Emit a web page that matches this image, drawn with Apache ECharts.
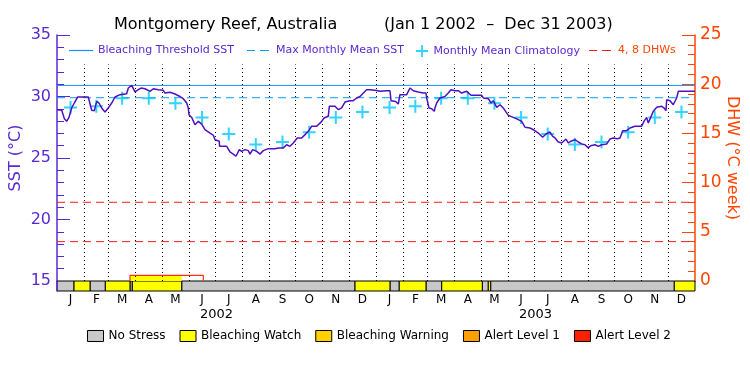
<!DOCTYPE html>
<html>
<head>
<meta charset="utf-8">
<script src="https://cdn.jsdelivr.net/npm/echarts@6/dist/echarts.min.js"></script>
<style>
  html, body { margin: 0; padding: 0; background: #fff; }
  #chart { width: 750px; height: 375px; }
</style>
</head>
<body>
<div id="chart"></div>
<script>
// days counted from Jan 1 2002, 730 days in all
const sstDays = [0, 5.4, 8.4, 11.1, 13.7, 16.8, 19.8, 23.7, 35.8, 37.8, 39.7, 42.7, 45.4, 48.1, 51.1, 54.9, 58.7, 62.6, 66.4, 72.1,
  79.7, 81.6, 85.5, 89.2, 93, 96.1, 100.7, 106.4, 110.2, 115.9, 121.6, 123.6, 129.3, 135, 140.7, 144.5, 148.4, 150.2, 151, 154.1,
  157.9, 161.7, 165.6, 169.3, 175.1, 178.8, 180.8, 185.7, 186, 194.2, 197.9, 201.7, 204.8, 208.6, 211.3, 215.1, 218.9, 220.8, 223.9, 228.5,
  232.3, 236, 241.8, 249.4, 253.2, 258.9, 262.8, 266.6, 270.4, 274.9, 280, 283.8, 287.5, 291.4, 297.1, 302.9, 305.5, 310.4, 311.6, 318.1,
  321.9, 323.8, 325.7, 329.5, 335.2, 339, 342.9, 346.7, 350.5, 354.3, 358.1, 363.8, 369.6, 377.2, 381, 382.2, 387.5, 390.5, 392.4, 400.1,
  403.9, 407.7, 413.4, 419.1, 422.2, 423, 425.6, 428.7, 431.7, 432.5, 434.4, 438.2, 443.9, 447.7, 450.8, 455.4, 459.1, 463, 468.8, 473.7,
  485.9, 487.8, 493.5, 496.6, 499.2, 503.1, 506.9, 510.6, 516.4, 522.1, 527.8, 531.7, 535.5, 541.2, 545, 550.7, 555.7, 559.5, 564.1, 567.2,
  569.8, 573.6, 577.5, 579.3, 582.4, 585, 587.8, 592.7, 596.5, 600.3, 604.1, 607.9, 610.6, 615.6, 619.3, 623.2, 628.9, 632.7, 636.5, 641.1,
  644.2, 647.3, 651.8, 655.6, 661.3, 669, 671.6, 674.7, 676.5, 679.3, 682.3, 686.2, 691.9, 694.5, 696.8, 697.6, 701.4, 705.1, 707.1, 709,
  710.9, 730];
const sstVals = [28.93, 28.88, 28.2, 27.98, 28.3, 29.07, 29.47, 29.96, 29.96, 29.88, 28.88, 28.85, 29.6, 29.47, 29.07, 28.74, 29.07, 29.47, 29.96, 30.15,
  30.23, 30.69, 30.9, 30.37, 30.55, 30.69, 30.63, 30.42, 30.63, 30.55, 30.5, 30.28, 30.34, 30.2, 30.0, 29.82, 29.47, 29.07, 28.52, 28.3,
  27.7, 27.98, 27.76, 27.3, 27.03, 26.85, 26.49, 26.36, 25.95, 25.95, 25.49, 25.32, 25.14, 25.68, 25.54, 25.68, 25.6, 25.32, 25.68, 25.54,
  25.32, 25.6, 25.76, 25.76, 25.82, 25.82, 26.08, 25.95, 26.22, 26.63, 26.63, 26.9, 27.17, 27.58, 27.58, 27.98, 28.25, 28.39, 29.2, 29.2,
  28.93, 28.8, 29.07, 29.55, 29.66, 29.66, 29.88, 30.0, 30.28, 30.55, 30.55, 30.5, 30.42, 30.47, 30.47, 29.66, 29.6, 29.39, 30.15, 30.15,
  30.69, 30.47, 30.37, 30.28, 30.28, 29.88, 29.07, 29.01, 28.8, 29.07, 29.47, 29.88, 30.0, 30.28, 30.55, 30.47, 30.47, 30.28, 30.42, 30.1,
  30.1, 29.88, 29.82, 29.47, 29.66, 29.12, 29.33, 29.07, 28.47, 28.3, 28.12, 27.98, 27.5, 27.44, 27.3, 27.03, 26.68, 26.95, 27.11, 26.76,
  26.63, 26.3, 26.22, 26.08, 26.54, 26.22, 26.36, 26.49, 26.3, 26.14, 26.08, 25.82, 26.0, 26.08, 25.95, 26.08, 26.14, 26.54, 26.63, 26.57,
  26.63, 27.22, 27.22, 27.44, 27.58, 27.58, 27.98, 28.3, 27.85, 28.3, 28.8, 29.12, 29.2, 29.07, 28.85, 29.74, 29.66, 29.33, 29.2, 29.88,
  30.42, 30.42];

const climatology = [29.1, 29.2, 29.85, 29.85, 29.45, 28.3, 26.95, 26.1, 26.3, 27.1, 28.3, 28.75];
const mmm = 29.9;
const threshold = 30.9;
const dhwLevels = [4, 8];

const dhwDays = [83.5, 83.5, 167.4, 167.4];
const dhwVals = [0, 0.57, 0.57, 0];
const dhwFillDays = [83.5, 142.7];

const statusStart = [0, 19.5, 37.8, 55.3, 83.5, 86.2, 142.7, 341, 381, 391.6, 422.2, 440.2, 486.6, 493.5, 496.2, 706.3];
const statusLevel = [0, 1, 0, 1, 0, 1, 0, 1, 0, 1, 0, 1, 0, 1, 0, 1];
const statusNames = ['No Stress', 'Bleaching Watch', 'Bleaching Warning', 'Alert Level 1', 'Alert Level 2'];
const statusColors = ['#c8c8c8', '#ffff00', '#ffd200', '#ffa000', '#ff2000'];

const monthLetters = ['J', 'F', 'M', 'A', 'M', 'J', 'J', 'A', 'S', 'O', 'N', 'D'];
const years = ['2002', '2003'];

const DAY = 86400000;
const t0 = Date.UTC(2002, 0, 1);
const monthStart = [];
for (let i = 0; i <= 24; i++) monthStart.push((Date.UTC(2002, i, 1) - t0) / DAY);
const monthMid = monthStart.slice(0, 24).map((d, i) => (d + monthStart[i + 1]) / 2);
const yearMid = [monthStart[12] / 2, (monthStart[12] + monthStart[24]) / 2];
const endDay = monthStart[24];

const purple = '#5a28d2';
const orange = '#ff4500';
const plus = 'path://M5.5,0h2v5.5h5.5v2h-5.5v5.5h-2v-5.5h-5.5v-2h5.5z';
const solidIcon = 'path://M0,0h24v1.2h-24z';
const dashIcon = 'path://M0,0h8v1.2h-8z M13,0h9v1.2h-9z M22,0h2v0.01h-2z';

const sstData = sstDays.map((d, i) => [d, sstVals[i]]);
const climData = monthMid.map((d, i) => [d, climatology[i % 12]]);
const dhwLineData = [];
dhwLevels.forEach((v, i) => {
  if (i > 0) dhwLineData.push([endDay, '-']);
  dhwLineData.push([0, v], [endDay, v]);
});

const statusSeries = statusNames.map((name, lv) => ({
  name: name,
  type: 'custom',
  xAxisIndex: 1,
  yAxisIndex: 2,
  itemStyle: { color: statusColors[lv] },
  encode: { x: [0, 1] },
  data: statusStart.map((s, i) => [s, i + 1 < statusStart.length ? statusStart[i + 1] : endDay, statusLevel[i]])
    .filter(r => r[2] === lv),
  renderItem: function (params, api) {
    const a = api.coord([api.value(0), 1]);
    const b = api.coord([api.value(1), 0]);
    return {
      type: 'rect',
      shape: { x: a[0], y: a[1], width: b[0] - a[0], height: b[1] - a[1] },
      style: { fill: api.visual('color'), stroke: '#000', lineWidth: 1 }
    };
  }
}));

const font = 'DejaVu Sans';
function topLegend(name, left, icon, width, color) {
  return {
    left: left, top: 45, padding: 0, itemWidth: width, itemHeight: 12, itemGap: 0,
    textStyle: { fontFamily: font, fontSize: 11, color: color },
    data: [icon ? { name: name, icon: icon } : { name: name }]
  };
}

const chart = echarts.init(document.getElementById('chart'));
chart.setOption({
  animation: false,
  textStyle: { fontFamily: font },
  title: [
    { text: 'Montgomery Reef, Australia', left: 109, top: 12, textStyle: { fontFamily: font, fontSize: 16, fontWeight: 'normal', color: '#000' } },
    { text: '(Jan 1 2002  –  Dec 31 2003)', left: 379, top: 12, textStyle: { fontFamily: font, fontSize: 16, fontWeight: 'normal', color: '#000' } }
  ],
  legend: [
    topLegend('Bleaching Threshold SST', 69, solidIcon, 24, purple),
    topLegend('Max Monthly Mean SST', 247, dashIcon, 24, purple),
    topLegend('Monthly Mean Climatology', 416, null, 13, purple),
    topLegend('4, 8 DHWs', 589, dashIcon, 24, orange),
    {
      left: 87, top: 330, padding: 0, itemWidth: 16, itemHeight: 11, itemGap: 14, icon: 'rect',
      itemStyle: { borderColor: '#000', borderWidth: 1 },
      textStyle: { fontFamily: font, fontSize: 12, color: '#000' },
      data: statusNames
    }
  ],
  grid: [
    { left: 57, top: 35, width: 638, height: 246, outerBoundsMode: 'none' },
    { left: 57, top: 281, width: 638, height: 10, outerBoundsMode: 'none' }
  ],
  xAxis: [
    {
      gridIndex: 0, type: 'value', position: 'top', min: 0, max: endDay,
      axisLine: { lineStyle: { color: '#000', width: 1 } },
      axisTick: { show: false }, axisLabel: { show: false }, splitLine: { show: false }
    },
    {
      gridIndex: 1, type: 'value', position: 'bottom', min: 0, max: endDay,
      axisLine: { show: false }, axisTick: { show: false }, splitLine: { show: false },
      axisLabel: {
        customValues: monthMid, margin: 3, fontSize: 12, color: '#000',
        formatter: v => monthLetters[monthMid.indexOf(v) % 12]
      }
    },
    {
      gridIndex: 1, type: 'value', position: 'bottom', min: 0, max: endDay, offset: 17,
      axisLine: { show: false }, axisTick: { show: false }, splitLine: { show: false },
      axisLabel: {
        customValues: yearMid, margin: 0, fontSize: 13, color: '#000',
        formatter: v => years[yearMid.indexOf(v)]
      }
    }
  ],
  yAxis: [
    {
      gridIndex: 0, type: 'value', position: 'left', min: 15, max: 35, interval: 5,
      name: 'SST (°C)', nameLocation: 'middle', nameGap: 33, nameMoveOverlap: false,
      nameTextStyle: { color: purple, fontSize: 16, fontFamily: font },
      axisLine: { show: true, lineStyle: { color: purple, width: 1.5 } },
      axisTick: { inside: true, length: 13, lineStyle: { color: purple } },
      minorTick: { show: true, splitNumber: 5, length: 7, lineStyle: { color: purple } },
      axisLabel: { color: purple, fontSize: 16, margin: 6 },
      splitLine: { show: false }
    },
    {
      gridIndex: 0, type: 'value', position: 'right', min: 0, max: 25, interval: 5,
      name: 'DHW (°C week)', nameLocation: 'middle', nameGap: 29, nameRotate: -90, nameMoveOverlap: false,
      nameTextStyle: { color: orange, fontSize: 16, fontFamily: font },
      axisLine: { show: true, lineStyle: { color: orange, width: 1.5 } },
      axisTick: { inside: true, length: 13, lineStyle: { color: orange } },
      minorTick: { show: true, splitNumber: 5, length: 7, lineStyle: { color: orange } },
      axisLabel: { color: orange, fontSize: 17, margin: 5 },
      splitLine: { show: false }
    },
    {
      gridIndex: 1, type: 'value', position: 'left', min: 0, max: 1, z: 10,
      axisLine: { show: true, lineStyle: { color: purple, width: 1.5 } },
      axisTick: { show: false }, axisLabel: { show: false }, splitLine: { show: false }
    }
  ],
  series: [
    {
      name: 'months', type: 'line', xAxisIndex: 0, yAxisIndex: 0, data: [], silent: true,
      markLine: {
        silent: true, symbol: 'none', label: { show: false }, animation: false,
        lineStyle: { color: '#000', type: [1, 3], width: 1 },
        data: monthStart.slice(1, 24).map(d => [{ coord: [d, 15] }, { coord: [d, 32.6] }])
      }
    },
    {
      name: '4, 8 DHWs', type: 'line', xAxisIndex: 0, yAxisIndex: 1, data: dhwLineData,
      symbol: 'none', silent: true, lineStyle: { color: '#ff1a1a', type: [8, 5], width: 1 },
      itemStyle: { color: '#ff1a1a' }
    },
    {
      name: 'Max Monthly Mean SST', type: 'line', xAxisIndex: 0, yAxisIndex: 0,
      data: [[0, mmm], [endDay, mmm]], symbol: 'none', silent: true,
      lineStyle: { color: '#00a0ff', type: [8, 5], width: 1 }, itemStyle: { color: '#00a0ff' }
    },
    {
      name: 'Bleaching Threshold SST', type: 'line', xAxisIndex: 0, yAxisIndex: 0,
      data: [[0, threshold], [endDay, threshold]], symbol: 'none', silent: true,
      lineStyle: { color: '#1e8cff', width: 1 }, itemStyle: { color: '#1e8cff' }
    },
    {
      name: 'dhwFill', type: 'line', xAxisIndex: 0, yAxisIndex: 1,
      data: dhwFillDays.map(d => [d, dhwVals[1]]), symbol: 'none', silent: true,
      lineStyle: { width: 0 }, areaStyle: { color: '#ffff00', opacity: 1 }
    },
    {
      name: 'dhw', type: 'line', xAxisIndex: 0, yAxisIndex: 1,
      data: dhwDays.map((d, i) => [d, dhwVals[i]]), symbol: 'none', silent: true,
      lineStyle: { color: '#ff3010', width: 1.2 }, z: 4
    },
    {
      name: 'Monthly Mean Climatology', type: 'scatter', xAxisIndex: 0, yAxisIndex: 0,
      data: climData, symbol: plus, symbolSize: 13, silent: true,
      itemStyle: { color: '#00c8ff' }, z: 4
    },
    {
      name: 'SST', type: 'line', xAxisIndex: 0, yAxisIndex: 0, data: sstData,
      symbol: 'none', silent: true, lineStyle: { color: '#5010c0', width: 1.5 }, z: 5
    }
  ].concat(statusSeries)
});
</script>
</body>
</html>
